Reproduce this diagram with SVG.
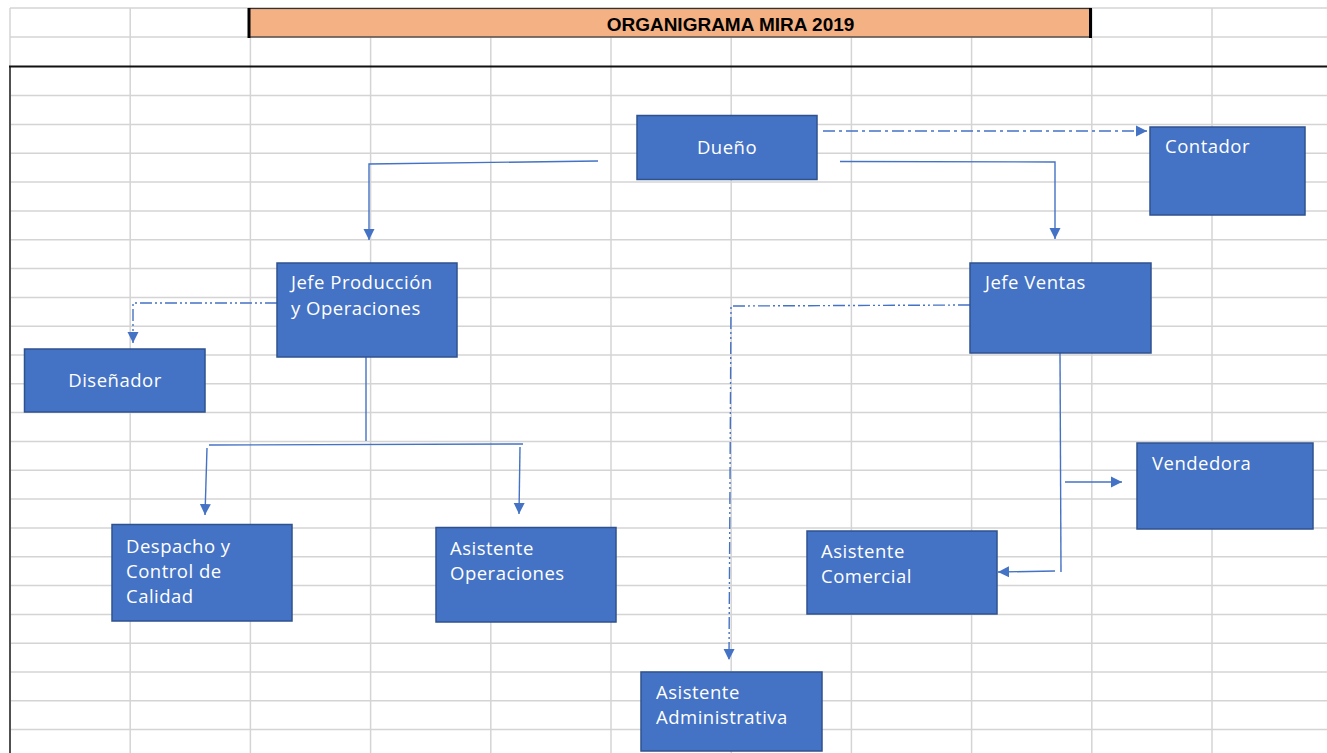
<svg xmlns="http://www.w3.org/2000/svg" width="1327" height="753" viewBox="0 0 1327 753">
<style>
.grid line{stroke:#d4d4d4;stroke-width:1.5}
.node rect{fill:#4472C4;stroke:#2F528F;stroke-width:1.5}
.node text{fill:#ffffff;font-family:"Open Sans","Liberation Sans",sans-serif;font-size:18.5px;letter-spacing:0.5px}
.conn path{fill:none;stroke:#4472C4;stroke-width:1.4}
.dd{stroke-dasharray:12 4 3 4}
.ddd{stroke-dasharray:12 3 2 3 2 3}
</style>
<defs>
<marker id="ah" markerUnits="userSpaceOnUse" markerWidth="12" markerHeight="12" viewBox="0 0 12 12" refX="11" refY="6" orient="auto">
<path d="M0,0.5 L11,6 L0,11.5 Z" fill="#4472C4"/>
</marker>
</defs>
<rect width="1327" height="753" fill="#ffffff"/>
<g class="grid">
<line x1="10" y1="8" x2="1327" y2="8"/>
<line x1="10" y1="37" x2="1327" y2="37"/>
<line x1="10" y1="95.6" x2="1327" y2="95.6"/>
<line x1="10" y1="124.4" x2="1327" y2="124.4"/>
<line x1="10" y1="153.3" x2="1327" y2="153.3"/>
<line x1="10" y1="182.1" x2="1327" y2="182.1"/>
<line x1="10" y1="210.9" x2="1327" y2="210.9"/>
<line x1="10" y1="239.7" x2="1327" y2="239.7"/>
<line x1="10" y1="268.5" x2="1327" y2="268.5"/>
<line x1="10" y1="297.4" x2="1327" y2="297.4"/>
<line x1="10" y1="326.2" x2="1327" y2="326.2"/>
<line x1="10" y1="355" x2="1327" y2="355"/>
<line x1="10" y1="383.8" x2="1327" y2="383.8"/>
<line x1="10" y1="412.6" x2="1327" y2="412.6"/>
<line x1="10" y1="441.5" x2="1327" y2="441.5"/>
<line x1="10" y1="470.3" x2="1327" y2="470.3"/>
<line x1="10" y1="499.1" x2="1327" y2="499.1"/>
<line x1="10" y1="527.9" x2="1327" y2="527.9"/>
<line x1="10" y1="556.7" x2="1327" y2="556.7"/>
<line x1="10" y1="585.5" x2="1327" y2="585.5"/>
<line x1="10" y1="614.4" x2="1327" y2="614.4"/>
<line x1="10" y1="643.2" x2="1327" y2="643.2"/>
<line x1="10" y1="672" x2="1327" y2="672"/>
<line x1="10" y1="700.8" x2="1327" y2="700.8"/>
<line x1="10" y1="729.6" x2="1327" y2="729.6"/>
<line x1="10" y1="8" x2="10" y2="753"/>
<line x1="130.2" y1="8" x2="130.2" y2="753"/>
<line x1="250.4" y1="8" x2="250.4" y2="753"/>
<line x1="370.6" y1="8" x2="370.6" y2="753"/>
<line x1="490.8" y1="8" x2="490.8" y2="753"/>
<line x1="611" y1="8" x2="611" y2="753"/>
<line x1="731.2" y1="8" x2="731.2" y2="753"/>
<line x1="851.4" y1="8" x2="851.4" y2="753"/>
<line x1="971.6" y1="8" x2="971.6" y2="753"/>
<line x1="1091.8" y1="8" x2="1091.8" y2="753"/>
<line x1="1212" y1="8" x2="1212" y2="753"/>
</g>
<g id="frame">
<line x1="10" y1="66.5" x2="10" y2="753" stroke="#505050" stroke-width="2"/>
<line x1="9" y1="66.5" x2="1327" y2="66.5" stroke="#111111" stroke-width="2.2"/>
</g>
<g id="title">
<rect x="249" y="8.5" width="842" height="28.5" fill="#F4B183" stroke="#333333" stroke-width="1.2"/>
<line x1="249" y1="8" x2="249" y2="38" stroke="#000" stroke-width="3"/>
<line x1="1090.5" y1="8" x2="1090.5" y2="38" stroke="#000" stroke-width="3"/>
<text x="730.5" y="30.5" text-anchor="middle" font-family="'Liberation Sans',Arial,sans-serif" font-weight="bold" font-size="19" fill="#000">ORGANIGRAMA MIRA 2019</text>
</g>
<g class="conn">
<path class="dd" d="M823,131 H1147" marker-end="url(#ah)"/>
<path d="M840,161.5 L1055,162 V239" marker-end="url(#ah)"/>
<path d="M598,161 L369,164 V240" marker-end="url(#ah)"/>
<path class="ddd" d="M277,303 H133 V343" marker-end="url(#ah)"/>
<path d="M366,357 V441"/>
<path d="M209,445 L523,444"/>
<path d="M207,448 L205,515" marker-end="url(#ah)"/>
<path d="M520,447 L519,514" marker-end="url(#ah)"/>
<path class="ddd" d="M970,305 L731,306 L729,660" marker-end="url(#ah)"/>
<path d="M1060,353 L1061,572"/>
<path d="M1055,571 L998,572" marker-end="url(#ah)"/>
<path d="M1065,482 H1122" marker-end="url(#ah)"/>
</g>
<g id="duenio" class="node">
<rect x="637" y="115.5" width="180" height="64"/>
<text x="727" y="154" text-anchor="middle">Dueño</text>
</g>
<g id="contador" class="node">
<rect x="1150" y="127" width="155" height="88"/>
<text x="1165" y="153">Contador</text>
</g>
<g id="jefe-produccion" class="node">
<rect x="277" y="263" width="180" height="94"/>
<text x="291" y="289">Jefe Producción</text>
<text x="291" y="315">y Operaciones</text>
</g>
<g id="disenador" class="node">
<rect x="24.5" y="349" width="180.5" height="63"/>
<text x="115" y="387" text-anchor="middle">Diseñador</text>
</g>
<g id="jefe-ventas" class="node">
<rect x="970" y="263" width="181" height="90"/>
<text x="985" y="289">Jefe Ventas</text>
</g>
<g id="vendedora" class="node">
<rect x="1137" y="443" width="176" height="86"/>
<text x="1152" y="470">Vendedora</text>
</g>
<g id="asistente-comercial" class="node">
<rect x="807" y="531" width="190" height="83"/>
<text x="821" y="558">Asistente</text>
<text x="821" y="583">Comercial</text>
</g>
<g id="despacho" class="node">
<rect x="112" y="524.5" width="180" height="96.5"/>
<text x="126" y="553">Despacho y</text>
<text x="126" y="578">Control de</text>
<text x="126" y="603">Calidad</text>
</g>
<g id="asistente-operaciones" class="node">
<rect x="436" y="527.5" width="180" height="94.5"/>
<text x="450" y="555">Asistente</text>
<text x="450" y="580">Operaciones</text>
</g>
<g id="asistente-administrativa" class="node">
<rect x="641" y="672" width="181" height="79"/>
<text x="656" y="699">Asistente</text>
<text x="656" y="724">Administrativa</text>
</g>
</svg>
